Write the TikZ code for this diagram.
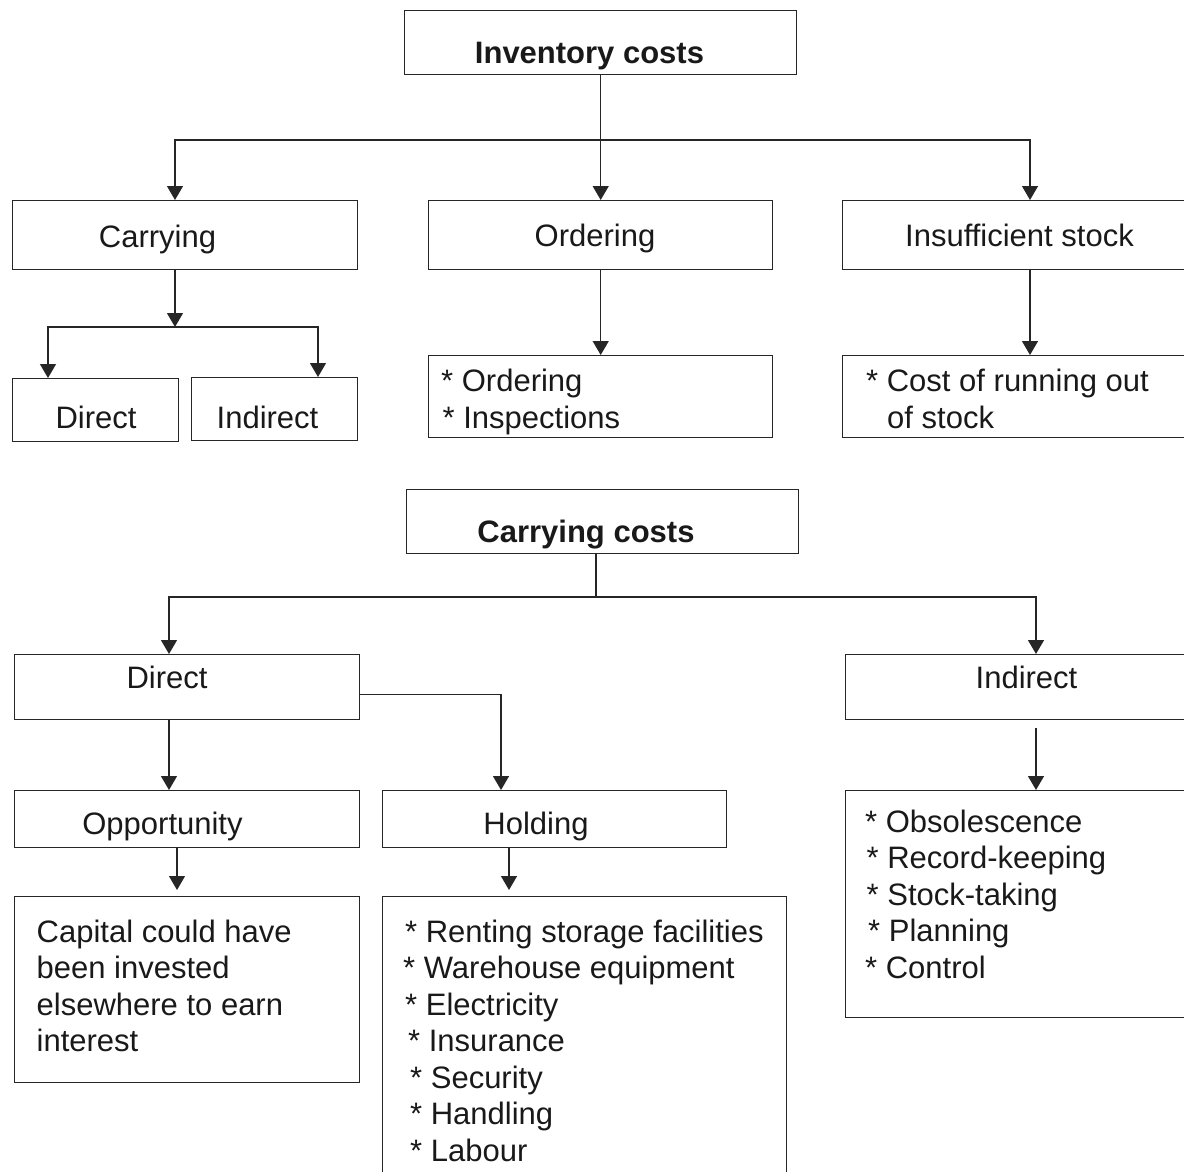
\documentclass[tikz,border=0pt]{standalone}
\usepackage{fontspec}
\setmainfont{Liberation Sans}
\usetikzlibrary{arrows.meta}
\begin{document}
\begin{tikzpicture}[x=1pt,y=-1pt,
  box/.style={draw=black!85, line width=1.4pt, inner sep=0pt, anchor=north west},
  txt/.style={inner sep=0pt, anchor=base, text=black!90,
    font=\fontsize{31pt}{36.5pt}\selectfont},
  lst/.style={txt, anchor=base west, align=left},
  ttl/.style={txt, font=\fontsize{31pt}{36.5pt}\selectfont\bfseries},
  arr/.style={draw=black!85, line width=1.4pt, -{Triangle[width=16pt,length=14pt]}},
  ln/.style={draw=black!85, line width=1.4pt}]
\useasboundingbox (0,0) rectangle (1184,1171);
\clip (0,0) rectangle (1184,1171);

% ---------- Inventory costs ----------
% (list nodes are placed at the baseline of their last line)
\node[box, minimum width=392pt, minimum height=64pt] (inv) at (404,10) {};
\node[ttl] (invt) at (589.5,63) {Inventory costs};

\node[box, minimum width=345pt, minimum height=69pt] (carry) at (12,200) {};
\node[txt] (carryt) at (157.5,247) {Carrying};
\node[box, minimum width=344pt, minimum height=69pt] (order) at (428,200) {};
\node[txt] (ordert) at (595,246) {Ordering};
\node[box, minimum width=400pt, minimum height=69pt] (insuf) at (842,200) {};
\node[txt] (insuft) at (1019.5,246) {Insufficient stock};

\node[box, minimum width=166pt, minimum height=63pt] (dir1) at (12,378) {};
\node[txt] (dir1t) at (96,428) {Direct};
\node[box, minimum width=166pt, minimum height=63pt] (ind1) at (191,377) {};
\node[txt] (ind1t) at (267.5,428) {Indirect};

\node[box, minimum width=344pt, minimum height=82pt] (ordlist) at (428,355) {};
\node[lst] (ordlistt) at (441,428) {* Ordering\\\hspace*{1.5pt}* Inspections};
\node[box, minimum width=400pt, minimum height=82pt] (cost) at (842,355) {};
\node[lst] (costt) at (866,428) {* Cost of running out\\\hspace*{21pt}of stock};

\coordinate (j1) at (601,140);
\coordinate (j2) at (175,327);
\draw[arr] (inv.south) -- (order.north);
\draw[arr] (j1) -| ([xshift=163pt]carry.north west);
\draw[arr] (j1) -| ([xshift=188pt]insuf.north west);
\draw[arr] ([xshift=163pt]carry.south west) -- (j2);
\draw[arr] (j2) -| ([xshift=36pt]dir1.north west);
\draw[arr] (j2) -| ([xshift=127pt]ind1.north west);
\draw[arr] (order.south) -- (ordlist.north);
\draw[arr] ([xshift=188pt]insuf.south west) -- ([xshift=188pt]cost.north west);

% ---------- Carrying costs ----------
\node[box, minimum width=392pt, minimum height=64pt] (cc) at (406,489) {};
\node[ttl] (cct) at (586,542) {Carrying costs};

\node[box, minimum width=345pt, minimum height=65pt] (dir2) at (14,654) {};
\node[txt] (dir2t) at (167,688) {Direct};
\node[box, minimum width=400pt, minimum height=65pt] (ind2) at (845,654) {};
\node[txt] (ind2t) at (1026.5,688) {Indirect};

\node[box, minimum width=345pt, minimum height=57pt] (opp) at (14,790) {};
\node[txt] (oppt) at (162.5,834) {Opportunity};
\node[box, minimum width=344pt, minimum height=57pt] (hold) at (382,790) {};
\node[txt] (holdt) at (536,834) {Holding};

\node[box, minimum width=345pt, minimum height=186pt] (cap) at (14,896) {};
\node[lst] (capt) at (36.5,1051.5) {Capital could have\\been invested\\elsewhere to earn\\interest};

\node[box, minimum width=404pt, minimum height=400pt] (hlist) at (382,896) {};
\node[lst] (hlistt) at (403,1161) {\hspace*{2pt}* Renting storage facilities\\
  * Warehouse equipment\\
  \hspace*{2pt}* Electricity\\
  \hspace*{5pt}* Insurance\\
  \hspace*{7pt}* Security\\
  \hspace*{7pt}* Handling\\
  \hspace*{7pt}* Labour};

\node[box, minimum width=400pt, minimum height=227pt] (ilist) at (845,790) {};
\node[lst] (ilistt) at (864,978) {\hspace*{1pt}* Obsolescence\\
  \hspace*{2.5pt}* Record-keeping\\
  \hspace*{2.5pt}* Stock-taking\\
  \hspace*{4pt}* Planning\\
  \hspace*{1pt}* Control};

\coordinate (j3) at (596,597);
\draw[ln] (cc.south -| j3) -- (j3);
\draw[arr] (j3) -| ([xshift=155pt]dir2.north west);
\draw[arr] (j3) -| ([xshift=191pt]ind2.north west);
\draw[arr] ([xshift=155pt]dir2.south west) -- ([xshift=155pt]opp.north west);
\draw[arr] ([yshift=-7.5pt]dir2.east) -| ([xshift=119pt]hold.north west);
\draw[arr] ([xshift=191pt,yshift=-8pt]ind2.south west) -- ([xshift=191pt]ilist.north west);
\draw[arr, shorten >=6pt] ([xshift=163pt]opp.south west) -- ([xshift=163pt]cap.north west);
\draw[arr, shorten >=6pt] ([xshift=127pt]hold.south west) -- ([xshift=127pt]hlist.north west);
\end{tikzpicture}
\end{document}
